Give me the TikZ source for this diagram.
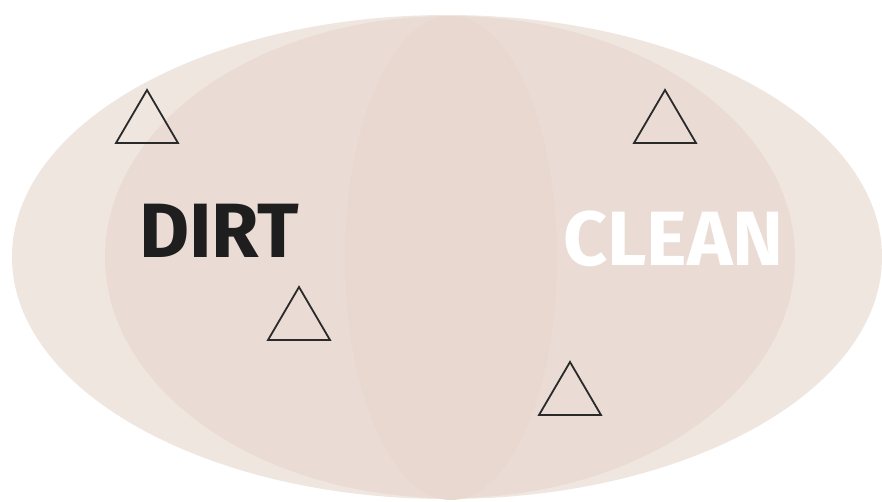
\documentclass[tikz,border=0pt]{standalone}
\usepackage{fontspec}
\setmainfont{Fira Sans}
\definecolor{outerc}{HTML}{F0E6E0}
\definecolor{innerc}{HTML}{EADCD4}
\definecolor{centc}{HTML}{E8D8CF}
\definecolor{triline}{HTML}{2A2A2A}
\definecolor{dirtc}{HTML}{1E1E1E}
\begin{document}
\begin{tikzpicture}[x=1pt,y=-1pt,
  blob/.style={draw=none},
  tri/.style={draw=triline,line width=1.8pt,line join=miter,fill=none},
  word/.style={font=\bfseries\fontsize{77}{80}\selectfont,inner sep=0pt,anchor=base west}]
\useasboundingbox (0,0) rectangle (882,501);
\fill[white] (0,0) rectangle (882,501);
% ellipses
\fill[outerc,blob] (447,257) ellipse [x radius=435,y radius=242];
\fill[innerc,blob] (450,257) ellipse [x radius=345,y radius=241];
\fill[centc,blob] (451,258) ellipse [x radius=106,y radius=242];
% triangles
\draw[tri] (147,90) -- (178,143) -- (116,143) -- cycle;
\draw[tri] (665,90) -- (696,143) -- (634,143) -- cycle;
\draw[tri] (299,287) -- (330,340) -- (268,340) -- cycle;
\draw[tri] (570,362) -- (601,415) -- (539,415) -- cycle;
% words
\node[word,text=dirtc] (dirt) at (139,257) {DIRT};
\node[word,text=white] (clean) at (563,265) {CLEAN};
\end{tikzpicture}
\end{document}
